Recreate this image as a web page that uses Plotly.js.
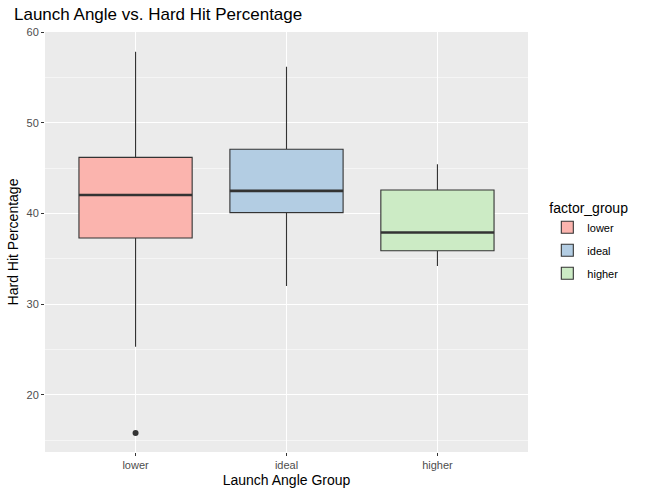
<!DOCTYPE html>
<html>
<head>
<meta charset="utf-8">
<script src="https://cdn.plot.ly/plotly-3.0.1.min.js"></script>
<style>html,body{margin:0;padding:0;background:#fff;}#chart{width:647px;height:495px;}</style>
</head>
<body>
<div id="chart"></div>
<script>
var categories = ["lower", "ideal", "higher"];
var lowerFence = [25.3, 32.0, 34.2];
var q1Values = [37.3, 40.1, 35.9];
var medianValues = [42.05, 42.5, 37.9];
var q3Values = [46.2, 47.1, 42.6];
var upperFence = [57.85, 56.2, 45.45];
var fillColors = ["#FBB4AE", "#B3CDE3", "#CCEBC5"];
var outlierGroup = ["lower"];
var outlierValues = [15.8];

var boxWidth = 0.75;
var traces = [];
categories.forEach(function (c, i) {
  traces.push({
    type: "box",
    name: c,
    legendgroup: c,
    x: [c],
    q1: [q1Values[i]],
    median: [medianValues[i]],
    q3: [q3Values[i]],
    lowerfence: [lowerFence[i]],
    upperfence: [upperFence[i]],
    width: boxWidth,
    whiskerwidth: 0,
    fillcolor: fillColors[i],
    line: {color: "#333333", width: 1.1},
    boxpoints: false,
    hoverinfo: "skip"
  });
});
traces.push({
  type: "scatter",
  mode: "markers",
  x: outlierGroup,
  y: outlierValues,
  marker: {color: "#333333", size: 6},
  showlegend: false,
  hoverinfo: "skip"
});

var shapes = categories.map(function (c, i) {
  return {
    type: "line", xref: "x", yref: "y",
    x0: i - boxWidth / 2, x1: i + boxWidth / 2,
    y0: medianValues[i], y1: medianValues[i],
    line: {color: "#333333", width: 2.6}
  };
});

var font = "Liberation Sans, Arial, Helvetica, sans-serif";
var layout = {
  width: 647, height: 495,
  margin: {l: 45, r: 119.3, t: 31.7, b: 42.7},
  paper_bgcolor: "#FFFFFF",
  plot_bgcolor: "#EBEBEB",
  font: {family: font, color: "#000000"},
  title: {
    text: "Launch Angle vs. Hard Hit Percentage",
    font: {size: 17, color: "#000000", family: font},
    x: 14 / 647, xanchor: "left", xref: "container",
    y: 1 - 14 / 495, yanchor: "middle", yref: "container"
  },
  showlegend: true,
  legend: {
    title: {text: "factor_group", font: {size: 14, color: "#000000"}},
    font: {size: 11, color: "#000000"},
    x: 1.04, xanchor: "left",
    y: 0.613, yanchor: "top",
    bgcolor: "rgba(0,0,0,0)",
    tracegroupgap: 4
  },
  xaxis: {
    type: "category",
    categoryorder: "array",
    categoryarray: categories,
    range: [-0.6, 2.6],
    showgrid: true, gridcolor: "#FFFFFF", gridwidth: 1.1,
    zeroline: false,
    ticks: "outside", ticklen: 3, tickcolor: "#333333", tickwidth: 1,
    tickfont: {size: 11, color: "#4D4D4D"},
    title: {text: "Launch Angle Group", font: {size: 14, color: "#000000"}, standoff: 4},
    fixedrange: true
  },
  yaxis: {
    range: [13.69, 60.03],
    tickvals: [20, 30, 40, 50, 60],
    showgrid: true, gridcolor: "#FFFFFF", gridwidth: 1.1,
    minor: {tickvals: [15, 25, 35, 45, 55], showgrid: true, gridcolor: "#FFFFFF", gridwidth: 0.5, ticks: ""},
    zeroline: false,
    ticks: "outside", ticklen: 3, tickcolor: "#333333", tickwidth: 1,
    tickfont: {size: 11, color: "#4D4D4D"},
    title: {text: "Hard Hit Percentage", font: {size: 14, color: "#000000"}, standoff: 4},
    fixedrange: true
  },
  shapes: shapes
};

Plotly.newPlot("chart", traces, layout, {displayModeBar: false, staticPlot: true});
</script>
</body>
</html>
